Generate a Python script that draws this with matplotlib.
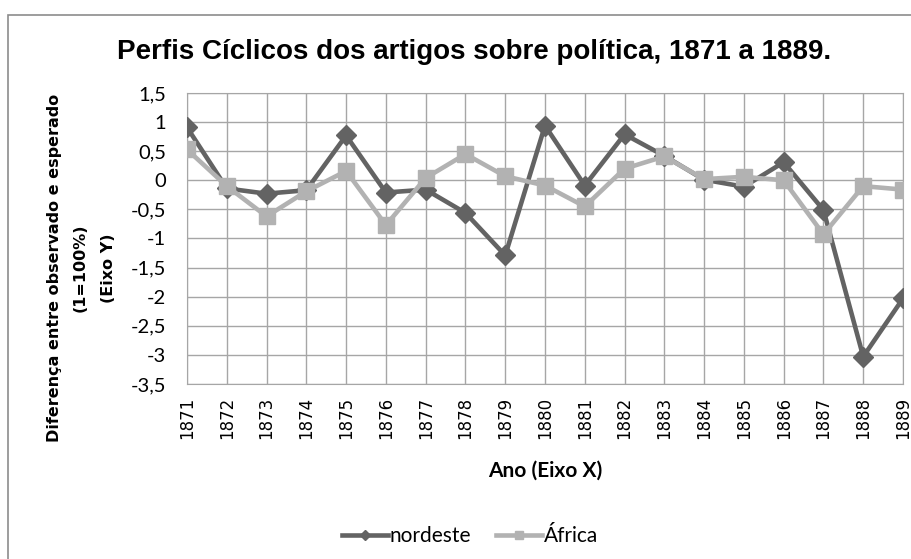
import matplotlib.pyplot as plt
from matplotlib.patches import Rectangle

anos = [str(a) for a in range(1871, 1890)]
nordeste = [0.91, -0.14, -0.23, -0.17, 0.77, -0.21, -0.16, -0.56, -1.29, 0.94,
            -0.09, 0.79, 0.42, 0.01, -0.11, 0.31, -0.51, -3.03, -2.03]
africa = [0.53, -0.10, -0.62, -0.19, 0.16, -0.77, 0.04, 0.45, 0.07, -0.09,
          -0.45, 0.20, 0.41, 0.02, 0.06, 0.00, -0.93, -0.10, -0.16]
yticks = [1.5, 1, 0.5, 0, -0.5, -1, -1.5, -2, -2.5, -3, -3.5]
ylabel_linhas = ["Diferença entre observado e esperado", "(1=100%)", "(Eixo Y)"]

W, H = 912, 559
fig = plt.figure(figsize=(9.12, 5.59), dpi=100)
ax = fig.add_axes([187 / W, 1 - 384 / H, 716 / W, 291 / H])

# moldura externa do gráfico
fig.patches.append(Rectangle((8 / W, -0.01), 1.0, 1 - 14.5 / H + 0.01,
                             transform=fig.transFigure, fill=False,
                             edgecolor="#8c8c8c", linewidth=1.2))

x = list(range(len(anos)))
ax.plot(x, nordeste, color="#636363", linewidth=3.3, marker="D", markersize=10,
        label="nordeste", zorder=3)
ax.plot(x, africa, color="#b2b2b2", linewidth=3.3, marker="s", markersize=11,
        label="África", zorder=3)

ax.set_xlim(0, len(anos) - 1)
ax.set_ylim(-3.5, 1.5)
ax.set_xticks(x)
ax.set_xticklabels(anos, rotation=90, fontsize=12, family="DejaVu Sans")
ax.set_yticks(yticks)
ax.set_yticklabels([str(v).replace(".", ",") for v in yticks], fontsize=14.5,
                   family="Lato")
ax.tick_params(axis="y", length=0, pad=15)
ax.tick_params(axis="x", length=0, pad=9)
ax.grid(True, color="#a6a6a6", linewidth=1)
ax.set_axisbelow(True)
for s in ax.spines.values():
    s.set_color("#a6a6a6")

fig.text(545 / W, 1 - 471 / H, "Ano (Eixo X)", ha="center", va="center",
         fontsize=15, fontweight="bold", family="Lato")
for xp, txt in zip([55, 80, 109], ylabel_linhas):
    fig.text(xp / W, 1 - 268 / H, txt, ha="center", va="center", rotation=90,
             fontsize=11.5, fontweight="bold", family="DejaVu Sans")
fig.text(474 / W, 1 - 52 / H, "Perfis Cíclicos dos artigos sobre política, 1871 a 1889.",
         ha="center", va="center", fontsize=20, fontweight="bold",
         family="Liberation Sans")
fig.legend(loc="center", bbox_to_anchor=(470 / W, 1 - 536 / H), ncol=2,
           frameon=False, prop={"family": "Lato", "size": 15},
           handlelength=2.2, columnspacing=1.2, handletextpad=0.1,
           markerscale=0.55)

plt.savefig("out.png")
